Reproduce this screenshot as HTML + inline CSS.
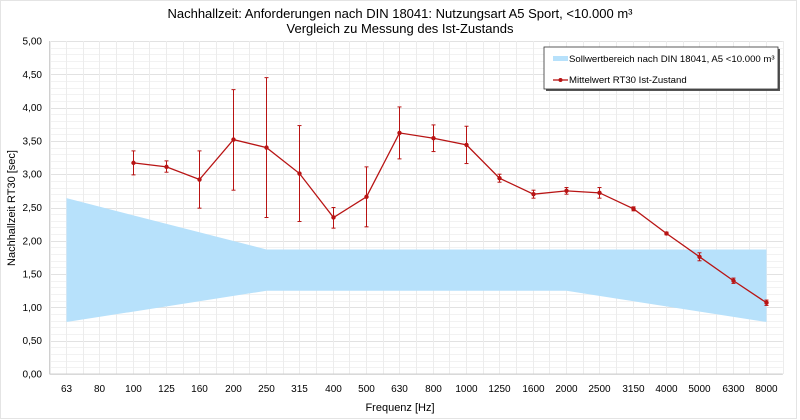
<!DOCTYPE html><html><head><style>body{margin:0;background:#fff}svg{display:block;font-family:"Liberation Sans",sans-serif}</style></head><body>
<svg width="800" height="420" xmlns="http://www.w3.org/2000/svg">
<rect x="0.5" y="0.5" width="796" height="418" fill="#fff" stroke="#e4e4e4"/>
<g id="grid"></g>
<polygon id="band" fill="#b7e1fb"/>
<g id="ser"></g>
<rect x="546" y="49" width="234" height="42" fill="#555"/>
<rect x="544" y="47" width="234" height="42" fill="#fff" stroke="#333" stroke-width="0.8"/>
<rect x="553" y="56" width="15" height="5" fill="#b7e1fb"/>
<text x="569" y="62" font-size="9.6">Sollwertbereich nach DIN 18041, A5 &lt;10.000 m³</text>
<line x1="553" y1="80" x2="568" y2="80" stroke="#b81414" stroke-width="1.3"/><circle cx="560.5" cy="80" r="2" fill="#b81414"/>
<text x="569" y="83" font-size="9.6">Mittelwert RT30 Ist-Zustand</text>
<text x="400" y="18" font-size="13" text-anchor="middle">Nachhallzeit: Anforderungen nach DIN 18041: Nutzungsart A5 Sport, &lt;10.000 m³</text>
<text x="400" y="33" font-size="13" text-anchor="middle">Vergleich zu Messung des Ist-Zustands</text>
<text x="400" y="411" font-size="11" text-anchor="middle">Frequenz [Hz]</text>
<text transform="translate(15,208) rotate(-90)" font-size="11" text-anchor="middle">Nachhallzeit RT30 [sec]</text>
<g id="lab" font-size="10"></g>
</svg>
<script>
const NS="http://www.w3.org/2000/svg";
const X0=49.5,W=733.3,sp=W/22,Y0=374,ky=66.6;
const X=i=>Math.round(X0+sp*(i+0.5))+0.5,Y=v=>Y0-v*ky;
function el(p,t,a,txt){const e=document.createElementNS(NS,t);for(const k in a)e.setAttribute(k,a[k]);if(txt!=null)e.textContent=txt;document.getElementById(p).appendChild(e);return e;}
for(let j=0;j<=50;j++){const y=Math.round(Y(j/10))+0.5;el('grid','line',{x1:X0,x2:X0+W,y1:y,y2:y,stroke:j%5?'#f2f2f2':'#e2e2e2','stroke-width':1});}
for(let j=0;j<=44;j++){const x=Math.round(X0+j*sp/2)+0.5;el('grid','line',{x1:x,x2:x,y1:Y(5),y2:Y0,stroke:'#ececec','stroke-width':1});}
el('grid','line',{x1:X0,x2:X0,y1:Y(5),y2:Y0,stroke:'#d0d0d0'});
el('grid','line',{x1:X0,x2:X0+W,y1:Y0,y2:Y0,stroke:'#d0d0d0'});
const cats=[63,80,100,125,160,200,250,315,400,500,630,800,1000,1250,1600,2000,2500,3150,4000,5000,6300,8000];
cats.forEach((c,i)=>el('lab','text',{x:X(i),y:392,'text-anchor':'middle'},c));
for(let j=0;j<=10;j++)el('lab','text',{x:42,y:Y(j/2)+3.5,'text-anchor':'end'},(j/2).toFixed(2).replace('.',','));
document.getElementById('band').setAttribute('points',[[0,2.64],[6,1.87],[21,1.87],[21,0.78],[15,1.25],[6,1.25],[0,0.78]].map(p=>X(p[0])+','+Y(p[1])).join(' '));
const d=[[2,3.17,3.35,2.99],[3,3.11,3.2,3.03],[4,2.92,3.35,2.49],[5,3.52,4.27,2.76],[6,3.40,4.45,2.35],[7,3.01,3.73,2.29],[8,2.35,2.5,2.19],[9,2.66,3.11,2.21],[10,3.62,4.01,3.23],[11,3.54,3.74,3.34],[12,3.44,3.72,3.16],[13,2.94,3.0,2.88],[14,2.70,2.76,2.64],[15,2.75,2.8,2.7],[16,2.72,2.8,2.64],[17,2.48,2.51,2.45],[18,2.11,2.13,2.09],[19,1.76,1.82,1.70],[20,1.40,1.44,1.36],[21,1.07,1.11,1.03]];
const c='#b81414';
el('ser','polyline',{points:d.map(p=>X(p[0])+','+Y(p[1])).join(' '),fill:'none',stroke:c,'stroke-width':1.3});
d.forEach(p=>{const x=X(p[0]);el('ser','line',{x1:x,x2:x,y1:Y(p[2]),y2:Y(p[3]),stroke:c,'stroke-width':1});
[p[2],p[3]].forEach(v=>el('ser','line',{x1:x-2,x2:x+2,y1:Y(v),y2:Y(v),stroke:c,'stroke-width':1}));
el('ser','circle',{cx:x,cy:Y(p[1]),r:2.2,fill:c});});
</script>
</body></html>
